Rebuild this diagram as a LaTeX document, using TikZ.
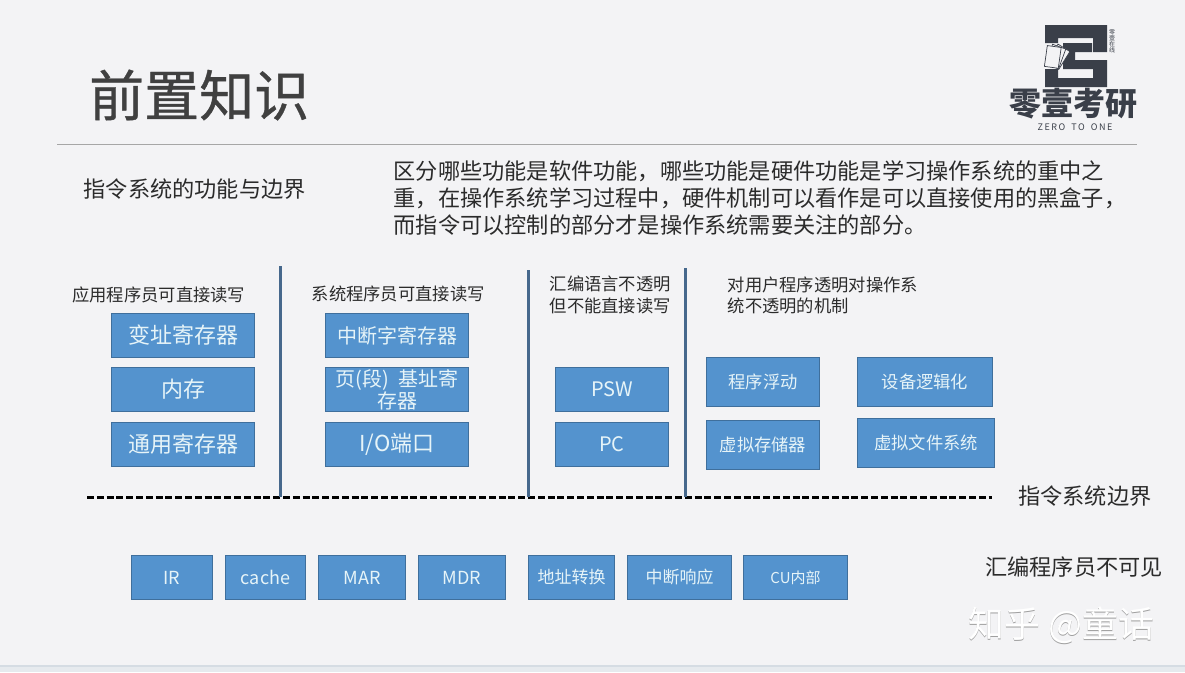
\documentclass[tikz,border=0pt]{standalone}
\usepackage{fontspec}
\setmainfont{Noto Sans CJK SC}
\newfontfamily\titlefont[FakeBold=0.7]{Noto Sans CJK SC}
\usetikzlibrary{calc}
\definecolor{pagebg}{HTML}{F3F3F5}
\definecolor{stripbg}{HTML}{E6EAEE}
\definecolor{stripline}{HTML}{D5DCE3}
\definecolor{boxfill}{HTML}{5493CE}
\definecolor{boxline}{HTML}{3F6F9C}
\definecolor{boxtext}{HTML}{E6F4F8}
\definecolor{inktext}{HTML}{2B2B2B}
\definecolor{logoink}{HTML}{3A3F49}
\definecolor{barline}{HTML}{46688C}
\newcommand{\fsz}[1]{\fontsize{#1}{#1}\selectfont}
\tikzset{
  regbox/.style={draw=boxline,fill=boxfill,text=boxtext,line width=0.8pt,inner sep=0pt,
    outer sep=0pt,align=center,minimum width=143pt,minimum height=44pt,font=\fsz{22}},
  smallbox/.style={regbox,minimum width=113pt,minimum height=49pt,font=\fsz{17.3}},
  lowbox/.style={regbox,minimum height=44pt,font=\fsz{18}},
  headtext/.style={text=inktext,inner sep=0pt,align=left,font=\fsz{17.3}},
  bigtext/.style={text=inktext,inner sep=0pt,align=left,font=\fsz{22.2}},
  bar/.style={barline,line width=3.05pt},
}
\begin{document}
\begin{tikzpicture}[x=1pt,y=-1pt]
        % Page
        \fill[pagebg] (0,0) rectangle (1185,672);
        \fill[stripbg] (0,665) rectangle (1185,672);
        \fill[stripline] (0,664.5) rectangle (1185,667);
        \useasboundingbox (0,0) rectangle (1185,672);
        % Title and rule
        \node[text=inktext!90,inner sep=0pt,anchor=west,font=\titlefont\fsz{55}] (title) at (89,95) {前置知识};
        \draw[gray!70,line width=0.7pt] (57,144) -- (1137,144);
        % Logo
        \fill[logoink] (1045,25) -- (1107,25) -- (1107,52) -- (1093,52) -- (1093,38) -- (1058,38)
          -- (1058,43) -- (1045,43) -- cycle;
        \fill[logoink] (1063,43) -- (1092,43) -- (1092,52) -- (1075,52) -- (1075,60) -- (1107,60)
          -- (1107,87) -- (1045,87) -- (1045,69) -- (1058,69) -- (1058,78) -- (1093,78)
          -- (1093,69) -- (1063,69) -- cycle;
        \foreach \ang in {0,12,24}
            \draw[logoink,fill=pagebg,line width=0.7pt,rotate around={\ang-32:(1056,70)}] (1044,47) rectangle (1058,68);
        \node[text=logoink,inner sep=0pt,align=center,font=\fsz{6}] (logotag) at (1112,41) {零\\壹\\在\\线};
        \node[text=logoink,inner sep=0pt,font=\bfseries\fsz{32}] (logoname) at (1073,104) {零壹考研};
        \node[text=logoink,inner sep=0pt,font=\fsz{9}] (logosub) at (1075,127) {Z\,E\,R\,O\ \ \ T\,O\ \ \ O\,N\,E};
        % Top text
        \node[bigtext,anchor=west] (feature) at (83.5,189) {指令系统的功能与边界};
        \node[bigtext,anchor=west] (line1) at (393.5,171) {区分哪些功能是软件功能，哪些功能是硬件功能是学习操作系统的重中之};
        \node[bigtext,anchor=west] (line2) at (393.5,198) {重，在操作系统学习过程中，硬件机制可以看作是可以直接使用的黑盒子，};
        \node[bigtext,anchor=west] (line3) at (393.5,225) {而指令可以控制的部分才是操作系统需要关注的部分。};
        % Column heads
        \node[headtext,anchor=west] (headapp) at (72,295) {应用程序员可直接读写};
        \node[headtext,anchor=west] (headsys) at (311.5,294) {系统程序员可直接读写};
        \node[headtext,anchor=west] (headasm) at (549.5,284) {汇编语言不透明};
        \node[headtext,anchor=west] (headasmb) at (549.5,306) {但不能直接读写};
        \node[headtext,anchor=west] (heados) at (727.5,285) {对用户程序透明对操作系};
        \node[headtext,anchor=west] (headosb) at (727.5,306) {统不透明的机制};
        % Column 1
        \node[regbox] (vaddr) at (183,335.5) {变址寄存器};
        \node[regbox] (mem) at (183,389.5) {内存};
        \node[regbox] (greg) at (183,444.5) {通用寄存器};
        % Column 2
        \node[regbox,font=\fsz{20}] (intreg) at (397,335.5) {中断字寄存器};
        \node[regbox,font=\fsz{20}] (pagereg) at (397,389.5) {\fontsize{20}{23}\selectfont 页(段)\ \ 基址寄\\存器};
        \node[regbox] (ioport) at (397,444.5) {I/O端口};
        % Column 3
        \node[regbox,minimum width=113pt,font=\fsz{20}] (psw) at (612,389.5) {PSW};
        \node[regbox,minimum width=113pt,font=\fsz{20}] (pc) at (612,444.5) {PC};
        % Column 4
        \node[smallbox] (reloc) at (763,382) {程序浮动};
        \node[smallbox] (vmem) at (763,445) {虚拟存储器};
        \node[smallbox,minimum width=135pt] (devlog) at (925,382) {设备逻辑化};
        \node[smallbox,minimum width=137pt] (vfs) at (926,443) {虚拟文件系统};
        % Boundary
        \coordinate (dashl) at (87,497.3);
        \coordinate (dashr) at (992,497.3);
        \draw[black,line width=3.05pt,dash pattern=on 7pt off 2.8pt] (dashl) -- (dashr);
        \node[bigtext,anchor=west] (boundary) at (1018,496) {指令系统边界};
        % Column bars
        \foreach \barx/\bartop in {280.3/266,528.3/270,685.3/268}
            \draw[bar] (\barx,\bartop) -- (\barx,497);
        % Lower row
        \node[lowbox,minimum width=81pt] (ir) at (172,577.5) {IR};
        \node[lowbox,minimum width=80pt] (cache) at (265.5,577.5) {cache};
        \node[lowbox,minimum width=87pt] (mar) at (362,577.5) {MAR};
        \node[lowbox,minimum width=87pt] (mdr) at (462,577.5) {MDR};
        \node[lowbox,minimum width=86pt,font=\fsz{17}] (addr) at (571.5,577.5) {地址转换};
        \node[lowbox,minimum width=104pt,font=\fsz{17}] (intr) at (679.5,577.5) {中断响应};
        \node[lowbox,minimum width=104pt,font=\fsz{15}] (cu) at (795.5,577.5) {CU内部};
        \node[bigtext,anchor=west] (asmhide) at (985,567) {汇编程序员不可见};
        % Watermark
        \node[text=gray!75,inner sep=0pt,anchor=west,font=\fsz{36}] (markshade) at (968.5,626.5) {知乎 @童话};
        \node[text=white,inner sep=0pt,anchor=west,font=\fsz{36}] (mark) at (968,625) {知乎 @童话};
\end{tikzpicture}
\end{document}
